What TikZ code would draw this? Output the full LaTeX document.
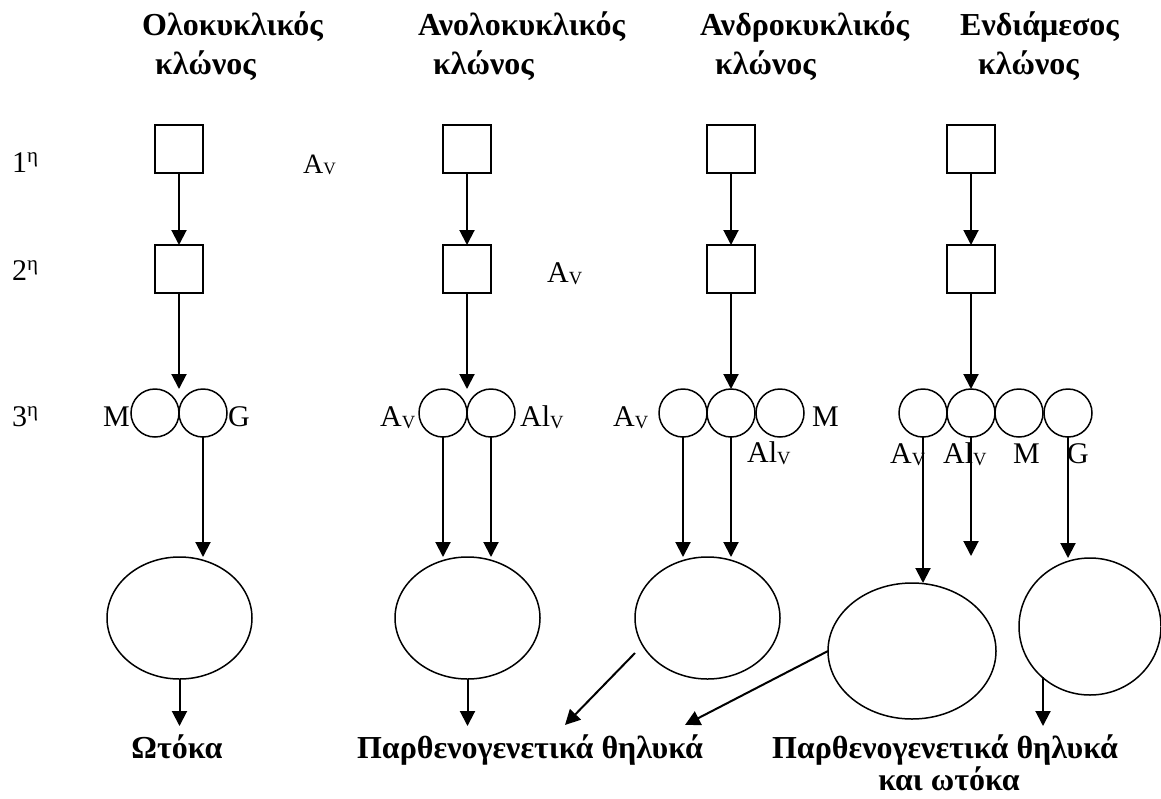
\documentclass[tikz,border=0pt]{standalone}
\usepackage{fontspec}
\usepackage{graphicx}
\setmainfont{Liberation Serif}
\usetikzlibrary{arrows.meta,shapes.geometric}
\newcommand\subV{\raisebox{-0.07em}{\scalebox{0.62}{V}}}
\newcommand\labAv{A\subV}
\newcommand\labAlv{Al\subV}
\begin{document}
\begin{tikzpicture}[x=1pt,y=-1pt,
  box/.style={draw,line width=1.5pt,minimum size=48pt,inner sep=0pt,outer sep=0pt},
  circ/.style={circle,draw,line width=1.5pt,minimum size=48pt,inner sep=0pt,outer sep=0pt},
  ell/.style={ellipse,draw,line width=1.5pt,inner sep=0pt,outer sep=0pt},
  arr/.style={line width=2pt,-{Triangle[length=15pt,width=15pt]}},
  lbl/.style={anchor=base west,inner sep=0pt,font=\fontsize{30}{36}\selectfont},
  ttl/.style={anchor=base west,inner sep=0pt,font=\fontsize{32}{38}\selectfont\bfseries},
  bot/.style={anchor=base,inner sep=0pt,font=\fontsize{32}{38}\selectfont\bfseries}]
\useasboundingbox[fill=white] (0,0) rectangle (1161,798);

% titles
\node[ttl] (h1a) at (142,35) {Ολοκυκλικός};
\node[ttl] (h1b) at (155,74) {κλώνος};
\node[ttl] (h2a) at (418,35) {Ανολοκυκλικός};
\node[ttl] (h2b) at (433,74) {κλώνος};
\node[ttl] (h3a) at (700,35) {Ανδροκυκλικός};
\node[ttl] (h3b) at (715,74) {κλώνος};
\node[ttl] (h4a) at (960,35) {Ενδιάμεσος};
\node[ttl] (h4b) at (978,74) {κλώνος};

% row labels
\node[lbl] (r1) at (12,172) {1\textsuperscript{η}};
\node[lbl] (r2) at (12,280) {2\textsuperscript{η}};
\node[lbl] (r3) at (12,426) {3\textsuperscript{η}};
\node[lbl,font=\fontsize{28}{32}\selectfont] (l1) at (303,173) {\labAv};
\node[lbl] (l2) at (547,282) {\labAv};

% column 1
\node[box] (b11) at (179,149) {};
\node[box] (b12) at (179,269) {};
\node[circ] (c11) at (155,413) {};
\node[circ] (c12) at (203,413) {};
\node[ell,minimum width=145pt,minimum height=122pt] (e1) at (179.5,618) {};
\node[lbl] (m1) at (103,426) {M};
\node[lbl] (g1) at (228,426) {G};
\coordinate (o1) at (179.5,726);

% column 2
\node[box] (b21) at (467,149) {};
\node[box] (b22) at (467,269) {};
\node[circ] (c21) at (443,413) {};
\node[circ] (c22) at (491,413) {};
\node[ell,minimum width=145pt,minimum height=122pt] (e2) at (467.5,618) {};
\node[lbl] (a2) at (380,426) {\labAv};
\node[lbl] (al2) at (520,426) {\labAlv};
\coordinate (o2) at (467.5,726);

% column 3
\node[box] (b31) at (731,149) {};
\node[box] (b32) at (731,269) {};
\node[circ] (c31) at (683,413) {};
\node[circ] (c32) at (731,413) {};
\node[circ] (c33) at (780,413) {};
\node[ell,minimum width=145pt,minimum height=122pt] (e3) at (707.5,618) {};
\node[lbl] (a3) at (613,426) {\labAv};
\node[lbl] (m3) at (812,426) {M};
\node[lbl] (al3) at (747,462) {\labAlv};
\coordinate (d3) at (635,653);
\coordinate (p1) at (565,725);

% column 4
\node[box] (b41) at (971,149) {};
\node[box] (b42) at (971,269) {};
\node[circ] (c41) at (923,413) {};
\node[circ] (c42) at (971,413) {};
\node[circ] (c43) at (1019,413) {};
\node[circ] (c44) at (1068,413) {};
\node[ell,minimum width=168pt,minimum height=136pt] (e4a) at (912,651) {};
\node[ell,minimum width=142pt,minimum height=137pt] (e4b) at (1090,626.5) {};
\node[lbl] (a4) at (890,463) {\labAv};
\node[lbl] (al4) at (943,463) {\labAlv};
\node[lbl] (m4) at (1013,463) {M};
\node[lbl] (g4) at (1067,463) {G};
\coordinate (f4) at (971,556);
\coordinate (p2) at (685,725);
\coordinate (o4) at (1043,726);

% bottom texts
\node[bot] (t1) at (177,758) {Ωτόκα};
\node[bot] (t2) at (530,758) {Παρθενογενετικά θηλυκά};
\node[bot] (t3) at (945,758) {Παρθενογενετικά θηλυκά};
\node[bot] (t4) at (949,790) {και ωτόκα};

% connectors
\foreach \c in {1,2,3,4}{\draw[arr] (b\c1) -- (b\c2);}
\draw[arr] (b12) -- (b12 |- c11.north);
\draw[arr] (b22) -- (b22 |- c21.north);
\draw[arr] (b32) -- (c32);
\draw[arr] (b42) -- (c42);

\draw[arr] (c12.south) -- (c12.south |- e1.north);
\draw[arr] (c21.south) -- (c21.south |- e2.north);
\draw[arr] (c22.south) -- (c22.south |- e2.north);
\draw[arr] (c31.south) -- (c31.south |- e3.north);
\draw[arr] (c32.south) -- (c32.south |- e3.north);
\draw[arr] (c41.south) -- (c41.south |- e4a.north);
\draw[arr] (c42.south) -- (f4);
\draw[arr] (c44.south) -- (c44.south |- e4b.north);

\draw[arr] (e1) -- (o1);
\draw[arr] (e2) -- (o2);
\draw[arr] (d3) -- (p1);
\draw[arr] (e4a.west) -- (p2);
\draw[arr] (o4 |- e4b.227.6) -- (o4);
\end{tikzpicture}
\end{document}
